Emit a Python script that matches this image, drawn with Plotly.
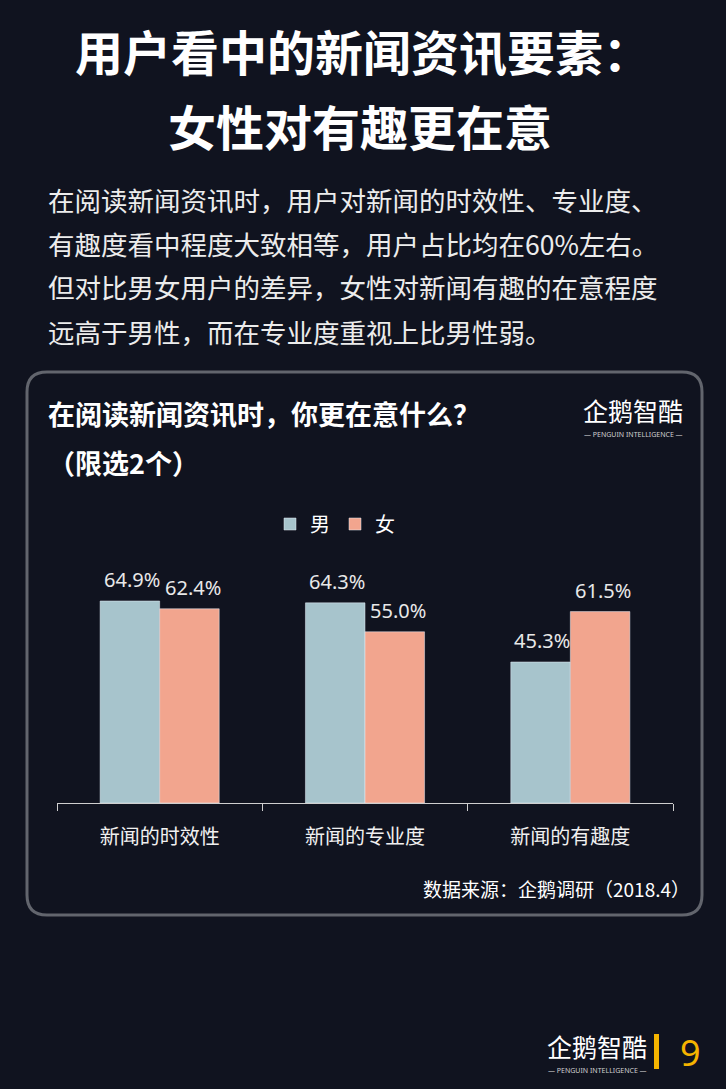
import plotly.graph_objects as go

# chart data
categories = ['新闻的时效性', '新闻的专业度', '新闻的有趣度']
male = [64.9, 64.3, 45.3]
female = [62.4, 55.0, 61.5]

W, H = 726, 1089
BG = '#10131f'
CJK = 'Noto Sans CJK SC'
BLUE = '#a7c4cc'
SALMON = '#f2a58e'


def px(x):
    return x / W


def py(y):
    return 1 - y / H


fig = go.Figure()
fig.add_trace(go.Bar(x=categories, y=male, name='男', marker_color=BLUE))
fig.add_trace(go.Bar(x=categories, y=female, name='女', marker_color=SALMON))

ann = []

# value labels above each bar (placed through the data axes)
for vals, dx in ((male, -28), (female, 33)):
    for c, v in zip(categories, vals):
        ann.append(dict(x=c, y=v, xref='x', yref='y', text=f'{v:.1f}%', showarrow=False,
                        xanchor='center', yanchor='bottom', xshift=dx, yshift=6,
                        font=dict(size=20, color='#e8e8e8', family='Noto Sans')))

# rounded box around the chart
x0, x1, y0, y1 = px(27), px(702), py(915), py(372)
rx, ry = px(20), 20 / H
box = (f'M {x0 + rx},{y1} L {x1 - rx},{y1} Q {x1},{y1} {x1},{y1 - ry} '
       f'L {x1},{y0 + ry} Q {x1},{y0} {x1 - rx},{y0} '
       f'L {x0 + rx},{y0} Q {x0},{y0} {x0},{y0 + ry} '
       f'L {x0},{y1 - ry} Q {x0},{y1} {x0 + rx},{y1} Z')
shapes = [
    dict(type='path', path=box, xref='paper', yref='paper',
         line=dict(color='#62656d', width=3), fillcolor='rgba(0,0,0,0)'),
    dict(type='rect', xref='paper', yref='paper', x0=px(654), x1=px(659),
         y0=py(1069), y1=py(1034), line_width=0, fillcolor='#f5b400'),
]


def text(x, y, s, size, color='white', bold=False, anchor='left', family=CJK):
    ann.append(dict(x=px(x), y=py(y), xref='paper', yref='paper', text=s,
                    showarrow=False, xanchor=anchor, yanchor='middle',
                    font=dict(size=size, color=color, family=family,
                              weight='bold' if bold else 'normal')))


# headline
text(363, 50, '用户看中的新闻资讯要素：', 48, bold=True, anchor='center')
text(360, 125, '女性对有趣更在意', 48, bold=True, anchor='center')

# paragraph
para = ['在阅读新闻资讯时，用户对新闻的时效性、专业度、',
        '有趣度看中程度大致相等，用户占比均在60%左右。',
        '但对比男女用户的差异，女性对新闻有趣的在意程度',
        '远高于男性，而在专业度重视上比男性弱。']
for i, line in enumerate(para):
    text(46, 199 + i * 44, line, 26.5, color='#ececec')

# box title
text(46, 413, '在阅读新闻资讯时，你更在意什么？', 27, bold=True)
text(46, 462, '（限选2个）', 27, bold=True)

# logo in box
text(633, 410, '企鹅智酷', 25, anchor='center')
text(633, 434, '— PENGUIN INTELLIGENCE —', 7, color='#cfcfcf', anchor='center', family='Noto Sans')

# source
text(692, 888, '数据来源：企鹅调研（2018.4）', 19, anchor='right')

# footer logo + page number
text(597, 1046, '企鹅智酷', 25, anchor='center')
text(597, 1070, '— PENGUIN INTELLIGENCE —', 7, color='#cfcfcf', anchor='center', family='Noto Sans')
text(690, 1052, '9', 36, color='#f5b400', anchor='center', family='Noto Sans')

fig.update_layout(
    width=W, height=H,
    margin=dict(l=0, r=0, t=0, b=0),
    paper_bgcolor=BG, plot_bgcolor=BG,
    barmode='group', bargap=0.42, bargroupgap=0,
    showlegend=True,
    legend=dict(orientation='h', x=px(335), y=py(524), xanchor='center', yanchor='middle',
                font=dict(size=20, color='white', family=CJK), itemwidth=30,
                bgcolor='rgba(0,0,0,0)'),
    xaxis=dict(domain=[px(57), px(673)], showline=True, linecolor='#cfcfcf', linewidth=1,
               ticks='outside', tickson='boundaries', ticklen=7, tickcolor='#cfcfcf',
               ticklabelstandoff=16,
               tickfont=dict(size=20, color='#f0f0f0', family=CJK), showgrid=False),
    yaxis=dict(domain=[py(803), py(554)], range=[0, 80], visible=False, showgrid=False),
    shapes=shapes,
    annotations=ann,
)

fig.write_html('out.html', config={'displayModeBar': False},
               post_script="document.body.style.margin='0';"
                           "document.body.style.background='" + BG + "';")
